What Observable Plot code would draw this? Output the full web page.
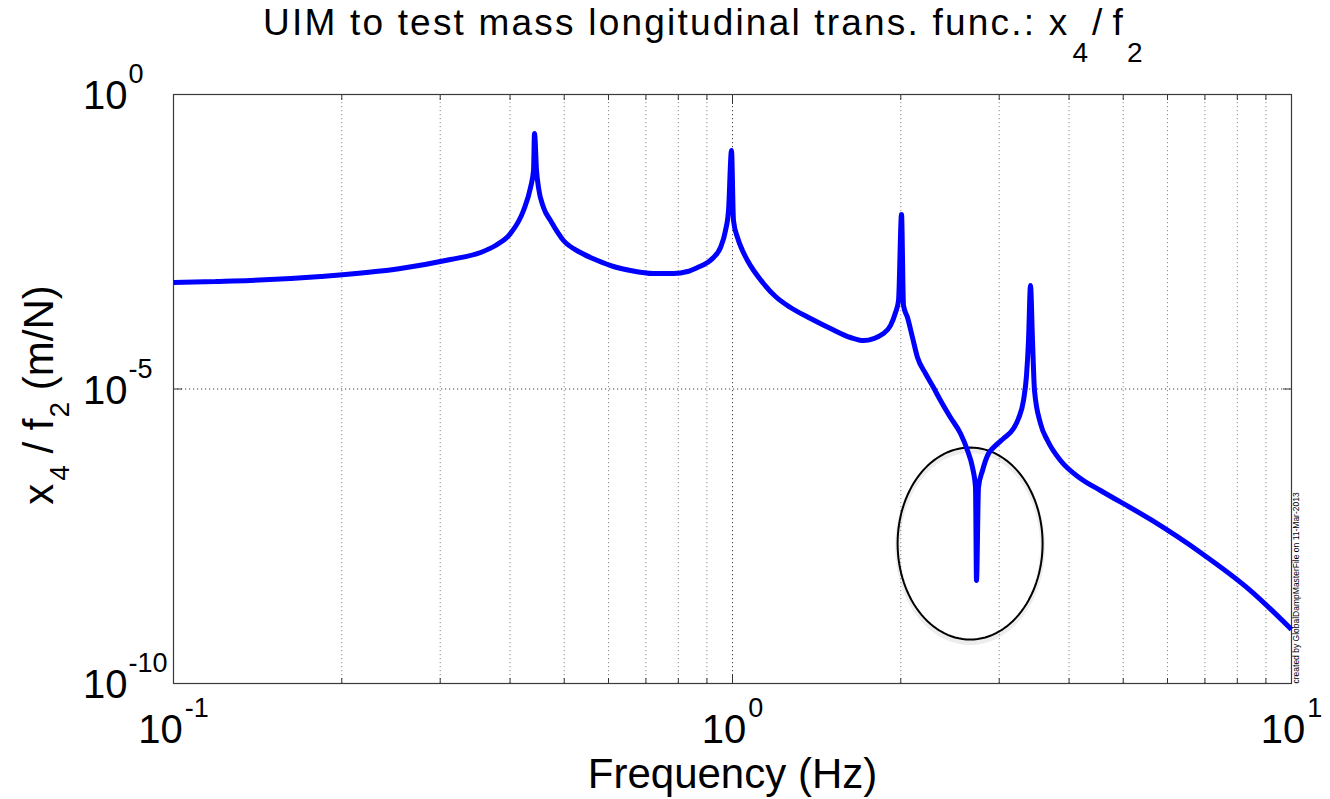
<!DOCTYPE html>
<html><head><meta charset="utf-8">
<script src="https://cdn.jsdelivr.net/npm/d3@7"></script>
<script src="https://cdn.jsdelivr.net/npm/@observablehq/plot@0.6"></script>
<style>
html,body{margin:0;padding:0;background:#fff;}
body{width:1330px;height:799px;overflow:hidden;font-family:"Liberation Sans",Arial,Helvetica,sans-serif;}
#title{position:relative;height:60px;}
#title .t{position:absolute;left:263px;top:4px;font-size:37px;line-height:37px;letter-spacing:2.2px;white-space:nowrap;color:#000;}
#title .sub{font-size:28px;position:relative;top:27px;letter-spacing:0;}
#chart svg{display:block;overflow:visible;}
</style></head>
<body>
<div id="title"><span class="t">UIM to test mass longitudinal trans. func.: x<span class="sub" style="margin-left:3px">4</span><span style="margin-left:4px">/</span><span style="margin-left:8px">f</span><span class="sub" style="margin-left:2px">2</span></span></div>
<div id="chart"></div>
<script>
// ---- data ----
const freq = [0.1000, 0.1189, 0.1373, 0.1833, 0.2547, 0.3130, 0.3542, 0.3768, 0.4007, 0.4228,
  0.4352, 0.4406, 0.4424, 0.4461, 0.4497, 0.4591, 0.4725, 0.4985, 0.5346, 0.5735,
  0.6125, 0.6570, 0.7223, 0.7842, 0.8307, 0.8657, 0.9022, 0.9248, 0.9518, 0.9716,
  0.9837, 0.9959, 1.0041, 1.0208, 1.0420, 1.0637, 1.1362, 1.1938, 1.2697, 1.3790,
  1.4969, 1.6257, 1.7151, 1.8628, 1.9173, 1.9572, 1.9815, 2.0061, 2.0227, 2.0563,
  2.0989, 2.1427, 2.2145, 2.2887, 2.3557, 2.4547, 2.5579, 2.6327, 2.6875, 2.7209,
  2.7321, 2.7548, 2.8006, 2.8708, 2.9305, 3.0535, 3.1819, 3.2481, 3.3157, 3.3569,
  3.3847, 3.4126, 3.4409, 3.4694, 3.5561, 3.6603, 3.8616, 4.1934, 4.553, 5.5949,
  6.8734, 8.4440, 10.0];
const mag = [6.43e-4, 6.69e-4, 6.95e-4, 8.13e-4, 1.111e-3, 1.580e-3, 2.077e-3, 2.731e-3, 4.366e-3, 1.073e-2,
  2.637e-2, 5.126e-2, 0.2177, 5.126e-2, 2.637e-2, 1.206e-2, 7.26e-3, 3.32e-3, 2.077e-3, 1.519e-3,
  1.202e-3, 1.028e-3, 9.14e-4, 9.14e-4, 9.88e-4, 1.156e-3, 1.405e-3, 1.708e-3, 2.526e-3, 4.91e-3,
  1.073e-2, 0.1120, 7.26e-3, 3.735e-3, 2.246e-3, 1.519e-3, 6.18e-4, 3.72e-4, 2.419e-4, 1.573e-4,
  1.065e-4, 7.49e-5, 6.66e-5, 8.76e-5, 1.197e-4, 1.990e-4, 3.18e-4, 9.18e-3, 2.616e-4, 1.636e-4,
  7.49e-5, 3.426e-5, 1.833e-5, 1.060e-5, 6.38e-6, 3.28e-6, 1.756e-6, 9.03e-7, 4.65e-7, 2.127e-7,
  5.61e-9, 2.127e-7, 4.133e-7, 8.03e-7, 1.016e-6, 1.444e-6, 2.135e-6, 3.156e-6, 6.38e-6, 1.695e-5,
  6.66e-5, 5.72e-4, 6.66e-5, 9.43e-6, 2.596e-6, 1.335e-6, 6.11e-7, 3.023e-7, 1.891e-7, 6.087e-8,
  1.675e-8, 3.79e-9, 8.26e-10];
const xMajor = [0.1, 1, 10];
const xMinor = [0.2, 0.3, 0.4, 0.5, 0.6, 0.7, 0.8, 0.9, 2, 3, 4, 5, 6, 7, 8, 9];
const xTickLabels = ["10^-1", "10^0", "10^1"];
const yMajor = [1e-10, 1e-5, 1];
const yTickLabels = ["10^-10", "10^-5", "10^0"];
const yGrid = [1e-5];
const xLabel = "Frequency (Hz)";
const yLabel = "x4 / f2 (m/N)";
const watermark = "created by GlobalDampMasterFile on 11-Mar-2013";
// annotation ellipse (centre in data units, half-axes in decades)
const ellCenter = [2.661, 2.38e-8];
const ellHalfDecades = [0.1297, 1.630];

const data = freq.map((f, i) => ({f, m: mag[i]}));
const ellPts = d3.range(0, 121).map(i => {
  const t = i / 120 * 2 * Math.PI;
  return {f: ellCenter[0] * Math.pow(10, ellHalfDecades[0] * Math.cos(t)),
          m: ellCenter[1] * Math.pow(10, ellHalfDecades[1] * Math.sin(t))};
});

const font = '"Liberation Sans", Arial, Helvetica, sans-serif';
const gridStyle = {stroke: "#000", strokeDasharray: "1.2,2.8"};

const svg = Plot.plot({
  width: 1330, height: 739,
  marginTop: 34, marginBottom: 116, marginLeft: 173, marginRight: 39,
  style: {fontFamily: font, background: "#fff", overflow: "visible", color: "#000"},
  x: {type: "log", domain: [0.1, 10], label: null},
  y: {type: "log", domain: [1e-10, 1], label: null},
  marks: [
    Plot.ruleX(xMinor, {...gridStyle, strokeOpacity: 0.45}),
    Plot.ruleX([1], {...gridStyle, strokeOpacity: 0.75}),
    Plot.ruleY(yGrid, {...gridStyle, strokeOpacity: 0.75}),
    // ticks (inward)
    Plot.axisX(xMinor, {anchor: "bottom", tickSize: -5, tickFormat: () => "", label: null, stroke: "#333"}),
    Plot.axisX(xMinor, {anchor: "top", tickSize: -5, tickFormat: () => "", label: null, stroke: "#333"}),
    Plot.axisX(xMajor, {anchor: "bottom", tickSize: -9, tickFormat: () => "", label: null, stroke: "#333"}),
    Plot.axisX(xMajor, {anchor: "top", tickSize: -9, tickFormat: () => "", label: null, stroke: "#333"}),
    Plot.axisY(yMajor, {anchor: "left", tickSize: -9, tickFormat: () => "", label: null, stroke: "#333"}),
    Plot.axisY(yMajor, {anchor: "right", tickSize: -9, tickFormat: () => "", label: null, stroke: "#333"}),
    // tick labels
    Plot.axisX(xMajor, {anchor: "bottom", tickSize: 0, tickPadding: 31, fontSize: 40, label: null,
      tickFormat: d => xTickLabels[xMajor.indexOf(d)]}),
    Plot.axisY(yMajor, {anchor: "left", tickSize: 0, tickPadding: 46, fontSize: 40, label: null, dy: 2,
      tickFormat: d => yTickLabels[yMajor.indexOf(d)]}),
    Plot.frame({stroke: "#3a3a3a", strokeWidth: 1.2}),
    // annotation ellipse with soft shadow
    Plot.line(ellPts, {x: "f", y: "m", stroke: "#000", strokeOpacity: 0.07, strokeWidth: 5, dy: 3}),
    Plot.line(ellPts, {x: "f", y: "m", stroke: "#000", strokeWidth: 2}),
    // transfer function
    Plot.line(data, {x: "f", y: "m", stroke: "#0000ff", strokeWidth: 5, curve: "monotone-x",
      strokeLinejoin: "bevel", strokeLinecap: "butt"}),
    // axis titles
    Plot.text([xLabel], {frameAnchor: "bottom", dy: 104, lineAnchor: "bottom", fontSize: 42, fill: "#000"}),
    Plot.text([yLabel], {frameAnchor: "left", dx: -121, dy: 6, rotate: -90, textAnchor: "middle",
      lineAnchor: "bottom", fontSize: 42, fill: "#000"}),
    Plot.text([watermark], {frameAnchor: "bottom-right", dx: 7, rotate: -90, textAnchor: "start",
      lineAnchor: "bottom", fontSize: 8.5, fill: "#000"})
  ]
});

// superscript exponents on tick labels
d3.select(svg).selectAll('g[aria-label="x-axis tick label"] text').each(function () {
  const s = this.textContent; if (!s.includes("^")) return;
  const [b, e] = s.split("^");
  const t = d3.select(this); t.text(null);
  t.append("tspan").text(b);
  t.append("tspan").attr("dx", 2).attr("dy", -26).attr("font-size", 27).text(e);
});
d3.select(svg).selectAll('g[aria-label="y-axis tick label"] text').each(function () {
  const s = this.textContent; if (!s.includes("^")) return;
  const [b, e] = s.split("^");
  const x0 = this.getAttribute("x") || 0;
  const t = d3.select(this); t.text(null);
  t.append("tspan").text(b);
  t.append("tspan").attr("x", x0).attr("dx", 1).attr("dy", -26).attr("font-size", 27)
    .style("text-anchor", "start").attr("text-anchor", "start").text(e);
});
// subscripts in y axis title
d3.select(svg).selectAll("text").filter(function () { return this.textContent === yLabel; }).each(function () {
  const t = d3.select(this); t.text(null);
  t.append("tspan").text("x");
  t.append("tspan").attr("font-size", 28).attr("dy", 16).attr("dx", 3).text("4");
  t.append("tspan").attr("dy", -16).text(" / f");
  t.append("tspan").attr("font-size", 28).attr("dy", 16).attr("dx", 1).text("2");
  t.append("tspan").attr("dy", -16).text(" (m/N)");
});

document.getElementById("chart").appendChild(svg);
</script>
</body></html>
